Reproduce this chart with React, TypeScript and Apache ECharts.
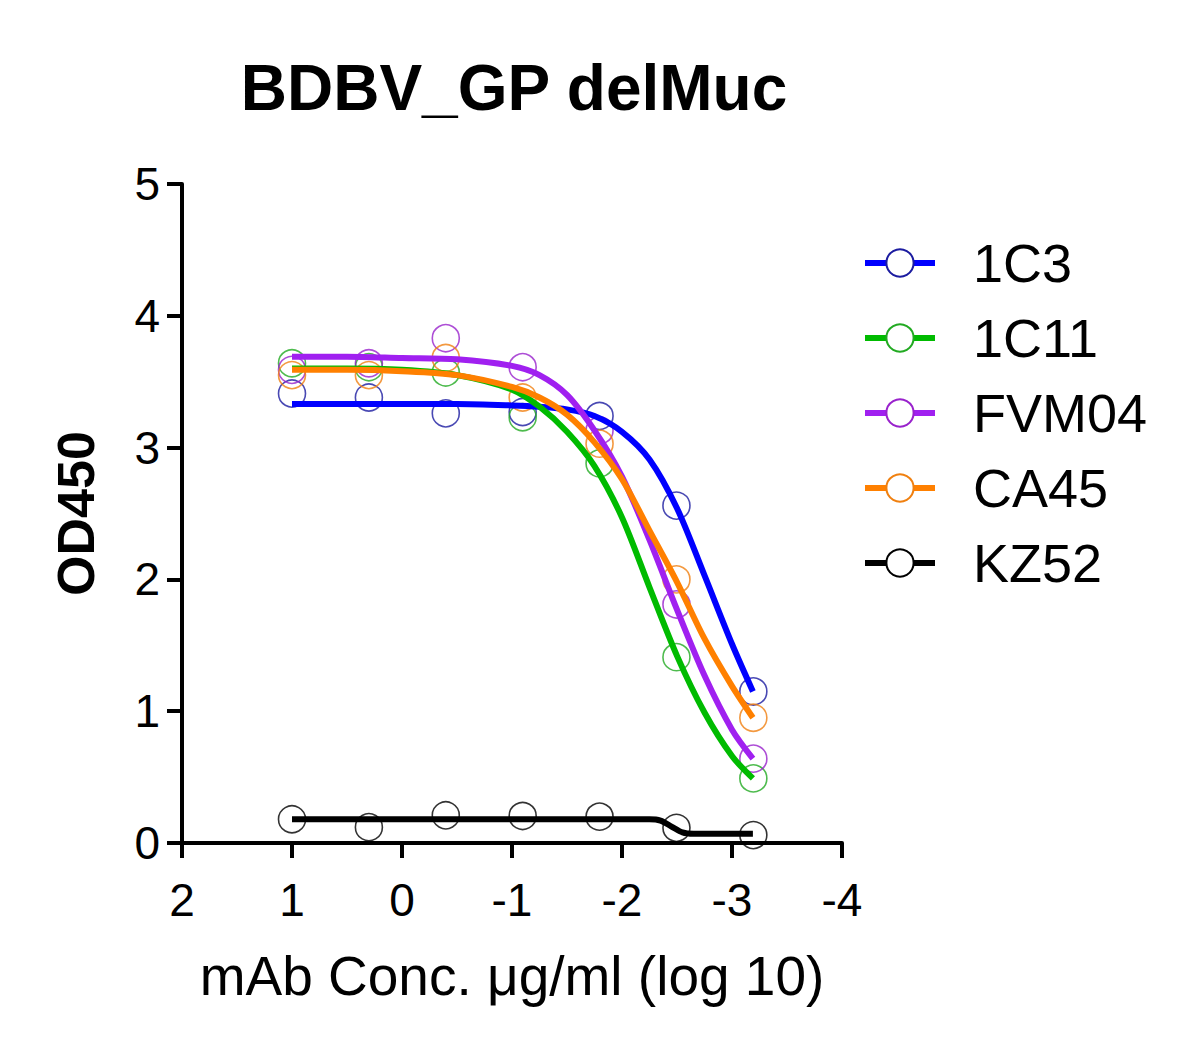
import React, { useEffect, useRef } from "react";
import * as echarts from "echarts";

// Log10 concentrations of the 5-fold dilution series (x positions of measured points)
const doseLog = [1, 0.301, -0.398, -1.097, -1.796, -2.495, -3.194];

// Measured OD450 values
const od1C3 = [3.41, 3.38, 3.26, 3.27, 3.24, 2.56, 1.15];
const od1C11 = [3.64, 3.61, 3.57, 3.23, 2.88, 1.41, 0.49];
const odFVM04 = [3.59, 3.64, 3.83, 3.61, 3.13, 1.81, 0.64];
const odCA45 = [3.55, 3.55, 3.68, 3.38, 3.03, 2.0, 0.95];
const odKZ52 = [0.18, 0.12, 0.21, 0.205, 0.2, 0.115, 0.06];

// Fitted curves
const curveX = [1, 0.5, 0, -0.5, -1, -1.25, -1.5, -1.75, -2, -2.25, -2.5, -2.75, -3, -3.19];
const fit1C3 = [3.33, 3.33, 3.33, 3.33, 3.32, 3.31, 3.29, 3.24, 3.12, 2.91, 2.54, 2.03, 1.51, 1.15];
const fit1C11 = [3.6, 3.6, 3.59, 3.55, 3.44, 3.31, 3.12, 2.86, 2.47, 1.94, 1.42, 0.99, 0.66, 0.49];
const fitFVM04 = [3.69, 3.69, 3.68, 3.67, 3.62, 3.55, 3.4, 3.13, 2.78, 2.3, 1.77, 1.27, 0.86, 0.64];
const fitCA45 = [3.59, 3.59, 3.58, 3.55, 3.46, 3.38, 3.25, 3.04, 2.76, 2.37, 1.98, 1.55, 1.19, 0.95];
const curveXKZ52 = [1, -2.25, -2.35, -2.45, -2.55, -2.65, -3.19];
const fitKZ52 = [0.18, 0.18, 0.17, 0.125, 0.08, 0.07, 0.07];

const seriesNames = ["1C3", "1C11", "FVM04", "CA45", "KZ52"];
const lineColors = ["#0000ff", "#00bb00", "#a020f0", "#ff8000", "#000000"];
const markerColors = ["#1c1ca0", "#22aa22", "#9922cc", "#f08010", "#000000"];

const xTicksMin = -4;
const xTicksMax = 2;
const yTicksMin = 0;
const yTicksMax = 5;

const FONT = "'Liberation Sans', Arial, Helvetica, sans-serif";

export default function App() {
  const ref = useRef<HTMLDivElement>(null);

  useEffect(() => {
    document.body.style.margin = "0";
    if (!ref.current) return;
    const chart = echarts.init(ref.current, undefined, { renderer: "svg" });

    const points = [od1C3, od1C11, odFVM04, odCA45, odKZ52];
    const fits = [fit1C3, fit1C11, fitFVM04, fitCA45, fitKZ52];
    const fitXs = [curveX, curveX, curveX, curveX, curveXKZ52];

    const lineSeries = seriesNames.map((name, i) => ({
      name,
      type: "line",
      data: fitXs[i].map((x, j) => [x, fits[i][j]]),
      smooth: 0.3,
      symbol: "emptyCircle",
      symbolSize: 27,
      showSymbol: false,
      lineStyle: { color: lineColors[i], width: 6, cap: "butt" },
      itemStyle: { color: markerColors[i] },
      z: 3,
    }));

    const scatterSeries = seriesNames.map((name, i) => ({
      name,
      type: "scatter",
      data: doseLog.map((x, j) => [x, points[i][j]]),
      symbol: "circle",
      symbolSize: 27,
      itemStyle: {
        color: "rgba(255,255,255,0)",
        borderColor: markerColors[i],
        borderWidth: 1.6,
      },
      z: 2,
    }));

    chart.setOption({
      animation: false,
      backgroundColor: "#ffffff",
      textStyle: { fontFamily: FONT },
      grid: { left: 182, top: 184, width: 660, height: 659 },
      graphic: [
        {
          type: "text",
          x: 514,
          y: 88,
          style: {
            text: "BDBV_GP delMuc",
            fontFamily: FONT,
            fontSize: 64,
            fontWeight: "bold",
            fill: "#000",
            textAlign: "center",
            textVerticalAlign: "middle",
          },
        },
      ],
      legend: {
        data: seriesNames,
        orient: "vertical",
        left: 857,
        top: 231,
        itemWidth: 70,
        itemHeight: 34,
        itemGap: 21,
        lineStyle: { width: 6 },
        textStyle: {
          fontFamily: FONT,
          fontSize: 54,
          lineHeight: 50,
          color: "#000",
          padding: [0, 0, 0, 33],
        },
      },
      xAxis: {
        type: "value",
        inverse: true,
        min: xTicksMin,
        max: xTicksMax,
        interval: 1,
        name: "mAb Conc. μg/ml (log 10)",
        nameLocation: "middle",
        nameGap: 105,
        nameTextStyle: { fontFamily: FONT, fontSize: 55, color: "#000" },
        axisLine: { onZero: false, lineStyle: { color: "#000", width: 4 } },
        axisTick: { length: 15, lineStyle: { color: "#000", width: 4 } },
        axisLabel: { fontFamily: FONT, fontSize: 46, color: "#000", margin: 34 },
        splitLine: { show: false },
      },
      yAxis: {
        type: "value",
        min: yTicksMin,
        max: yTicksMax,
        interval: 1,
        name: "OD450",
        nameLocation: "middle",
        nameGap: 80,
        nameTextStyle: { fontFamily: FONT, fontSize: 52, fontWeight: "bold", color: "#000" },
        axisLine: { onZero: false, lineStyle: { color: "#000", width: 4 } },
        axisTick: { length: 15, lineStyle: { color: "#000", width: 4 } },
        axisLabel: { fontFamily: FONT, fontSize: 46, color: "#000", margin: 22 },
        splitLine: { show: false },
      },
      series: [...lineSeries, ...scatterSeries],
    });

    return () => chart.dispose();
  }, []);

  return <div ref={ref} style={{ width: 1190, height: 1052 }} />;
}
